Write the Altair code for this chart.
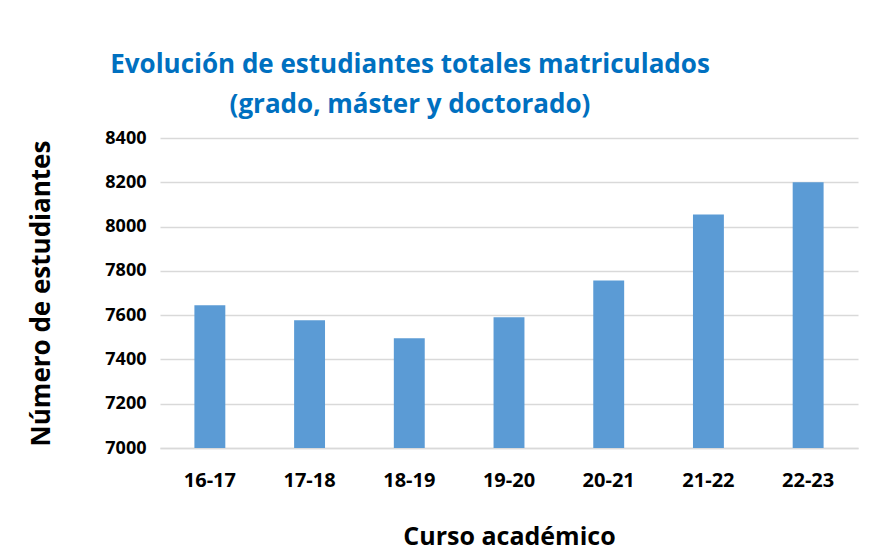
import altair as alt
import pandas as pd

cursos = ["16-17", "17-18", "18-19", "19-20", "20-21", "21-22", "22-23"]
estudiantes = [7645, 7577, 7496, 7591, 7756, 8054, 8200]
base = 7000

df = pd.DataFrame({"curso": cursos, "n": estudiantes})

FONT = "Open Sans"

chart = alt.Chart(df).mark_bar(color="#5B9BD5").encode(
    x=alt.X("curso:N", sort=cursos,
            scale=alt.Scale(paddingInner=0.69, paddingOuter=0.345),
            axis=alt.Axis(title="Curso académico", labelAngle=0,
                          labelFontSize=20, labelFontWeight="bold", labelColor="black",
                          labelPadding=22, titleFontSize=25, titleFontWeight="bold",
                          titleColor="black", titlePadding=34, ticks=False,
                          domainColor="#d9d9d9", domainWidth=1.5, labelFont=FONT, titleFont=FONT)),
    y=alt.Y("n:Q", scale=alt.Scale(domain=[7000, 8400], nice=False, zero=False),
            axis=alt.Axis(title="Número de estudiantes", values=list(range(7000, 8401, 200)),
                          format="d",
                          labelFontSize=18, labelFontWeight="bold", labelColor="black",
                          labelPadding=14, titleFontSize=26, titleFontWeight="bold",
                          titleColor="black", titlePadding=50, ticks=False, domain=False,
                          gridColor="#d9d9d9", gridWidth=1.5, labelFont=FONT, titleFont=FONT)),
    y2=alt.datum(base),
).properties(
    width=698,
    height=310,
    autosize=alt.AutoSizeParams(type="none"),
    padding={"left": 152, "top": 130, "right": 5, "bottom": 105},
    background="white",
    title=alt.TitleParams(
        text=["Evolución de estudiantes totales matriculados", "(grado, máster y doctorado)"],
        fontSize=26, fontWeight="bold", color="#0070C0", font=FONT,
        anchor="middle", dx=-99, lineHeight=40, offset=11,
    ),
).configure_view(stroke=None)

chart.save("out.html", embed_options={"renderer": "svg", "actions": False})
